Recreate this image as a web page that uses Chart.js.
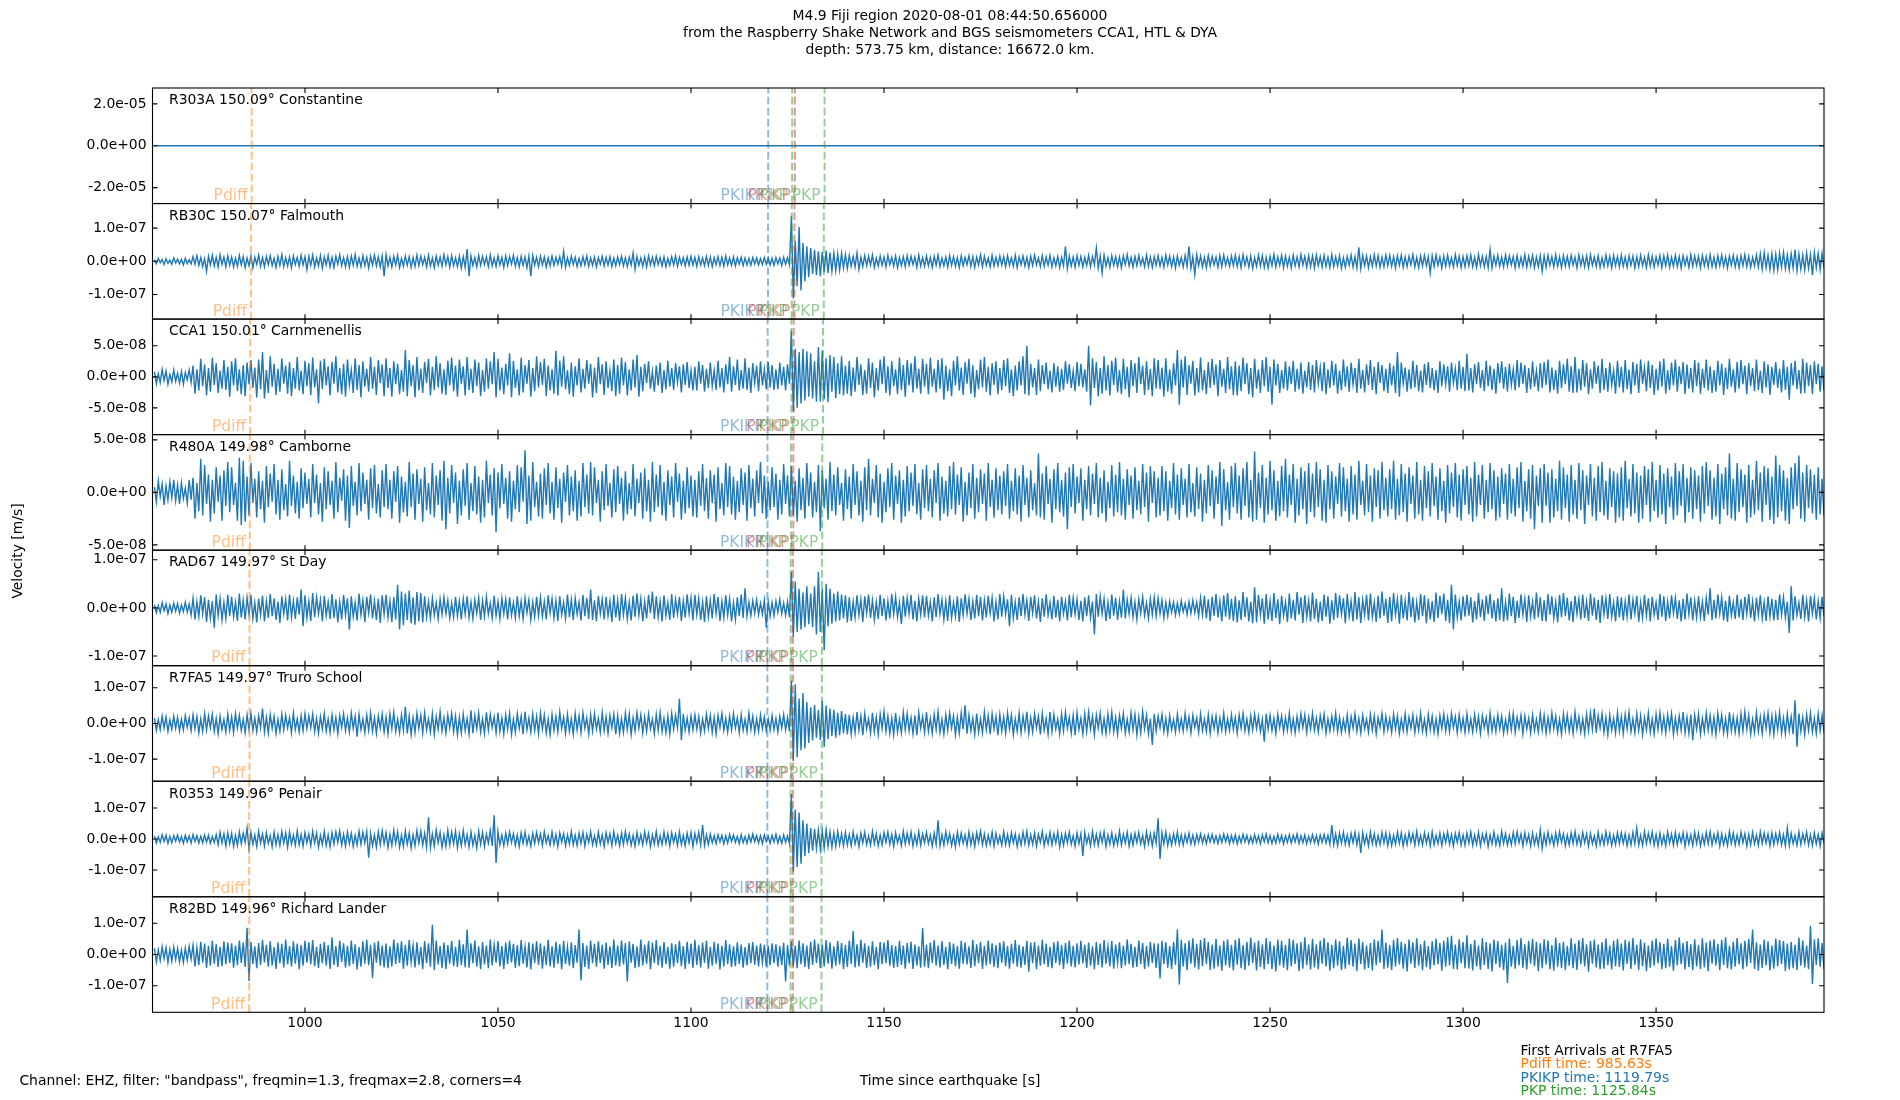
<!DOCTYPE html>
<html><head><meta charset="utf-8">
<script src="https://cdn.jsdelivr.net/npm/chart.js@4.4.0/dist/chart.umd.min.js"></script>
<style>html,body{margin:0;padding:0;background:#fff;}canvas{display:block;}</style>
</head><body>
<canvas id="c" width="1900" height="1100"></canvas>
<script>
// ---------------- data ----------------
const titleLines = [
  "M4.9 Fiji region 2020-08-01 08:44:50.656000",
  "from the Raspberry Shake Network and BGS seismometers CCA1, HTL & DYA",
  "depth: 573.75 km, distance: 16672.0 km."
];
const stations  = ["R303A","RB30C","CCA1","R480A","RAD67","R7FA5","R0353","R82BD"];
const distances = [150.09,150.07,150.01,149.98,149.97,149.97,149.96,149.96];
const places    = ["Constantine","Falmouth","Carnmenellis","Camborne","St Day","Truro School","Penair","Richard Lander"];

// y-axis half ranges (m/s) and tick values
const yLimits = [2.76e-5,1.74e-7,9.3e-8,5.5e-8,1.2e-7,1.62e-7,1.86e-7,1.85e-7];
const yTickValues = [
  [-2e-5,0,2e-5],[-1e-7,0,1e-7],[-5e-8,0,5e-8],[-5e-8,0,5e-8],
  [-1e-7,0,1e-7],[-1e-7,0,1e-7],[-1e-7,0,1e-7],[-1e-7,0,1e-7]
];
const xMin = 960.5, xMax = 1393.5;
const xTicks = [1000,1050,1100,1150,1200,1250,1300,1350];

// arrival phases (s since origin), per station
const phases = ["Pdiff","PKIKP","PKiKP","PKP","PKP"];
const arrPdiff = [986.2,986.0,985.8,985.7,985.63,985.63,985.55,985.55];
const arrPKIKP = [1120.0,1119.95,1119.85,1119.81,1119.79,1119.79,1119.77,1119.77];
const arrPKiKP = [1126.9,1126.8,1126.6,1126.5,1126.4,1126.4,1126.4,1126.4];
const arrPKP1  = [1126.2,1126.1,1126.0,1125.9,1125.84,1125.84,1125.8,1125.8];
const arrPKP2  = [1134.6,1134.4,1134.2,1134.0,1133.9,1133.9,1133.8,1133.8];
const arrivals = [arrPdiff,arrPKIKP,arrPKiKP,arrPKP1,arrPKP2];

// traces: alternating half-cycle peak velocities in nm/s, starting at 961 s
const traceStart = 961;
const traceStep = [10,0.5,0.5,0.5,0.5,0.5,0.5,0.5];
const trR303A = [3,-2,4,-3,2,-4,3,-2,1,-3,2,-1,3,-2,4,-3,2,-1,3,-4,2,-3,1,-2,3,-1,2,-3,4,-2,1,-3,2,-4,3,-1,2,-3,1,-2,3,-4,2,-1,3];
const trRB30C = [
5,-7,9,-4,6,-10,8,-6,4,-9,10,-5,7,-8,6,-11,9,-7,5,-8,14,-9,17,-12,11,-16,8,-30,15,-11,18,-14,12,-17,20,-9,13,-16,17,-12,
13,-17,9,-15,18,-11,14,-19,10,-13,16,-20,12,-9,19,-15,11,-17,14,-10,17,-13,9,-18,15,-12,20,-16,11,-14,13,-19,16,-10,12,-15,18,-11,14,-25,
15,-12,19,-17,10,-14,17,-20,13,-11,18,-16,12,-19,15,-9,20,-13,11,-17,14,-18,16,-12,21,-15,10,-16,17,-13,12,-20,15,-11,19,-14,13,-17,16,-45,
20,-14,12,-17,15,-11,18,-19,9,-15,16,-12,14,-18,11,-16,19,-13,15,-10,12,-17,18,-14,10,-19,16,-12,13,-15,20,-11,14,-18,17,-13,11,-16,15,-20,
14,-18,37,-45,16,-13,11,-17,18,-12,15,-10,13,-16,19,-14,10,-15,17,-11,12,-18,16,-13,14,-9,18,-15,11,-17,15,-12,13,-19,16,-45,18,-11,12,-16,
15,-11,13,-17,10,-14,16,-12,12,-9,14,-15,30,-18,11,-13,15,-10,12,-16,9,-13,14,-11,16,-15,10,-12,13,-17,11,-9,15,-14,12,-11,14,-16,10,-13,
13,-10,15,-14,11,-16,12,-11,25,-24,14,-12,10,-15,13,-17,16,-11,12,-13,15,-10,11,-14,13,-16,9,-12,14,-11,16,-15,12,-10,11,-14,13,-12,15,-11,
12,-15,14,-11,10,-13,15,-12,13,-16,11,-10,14,-13,12,-15,16,-11,10,-12,13,-14,11,-9,12,-13,10,-11,9,-12,11,-8,10,-11,8,-10,12,-9,10,-11,
9,-12,11,-8,10,-13,12,-9,11,-10,136,-112,60,-75,103,-88,55,-60,45,-48,40,-38,35,-42,30,-45,28,-33,32,-35,26,-30,25,-28,22,-26,24,-20,20,-22,
18,-15,14,-17,25,-24,12,-16,17,-13,15,-11,19,-18,10,-14,16,-12,13,-17,18,-10,12,-15,16,-19,11,-13,14,-16,17,-12,15,-10,13,-18,19,-14,11,-15,
16,-13,12,-18,15,-11,19,-16,10,-14,13,-17,18,-12,14,-15,11,-19,16,-13,12,-10,17,-15,14,-18,13,-11,19,-16,15,-12,10,-17,18,-14,12,-13,16,-11,
14,-16,17,-12,11,-15,18,-19,13,-10,16,-14,12,-18,15,-13,19,-11,10,-16,17,-15,13,-12,18,-17,11,-14,15,-19,12,-13,45,-22,16,-14,13,-18,17,-12,
15,-17,12,-13,18,-16,14,-11,40,-20,16,-35,19,-15,11,-18,17,-12,14,-16,13,-19,16,-10,20,-14,12,-17,15,-13,18,-11,10,-16,19,-15,13,-18,14,-12,
17,-14,12,-18,19,-11,15,-16,13,-20,16,-12,11,-17,18,-15,45,-21,14,-40,20,-13,16,-17,12,-19,18,-14,15,-11,13,-18,17,-16,19,-12,11,-15,16,-13,
18,-16,14,-19,20,-12,13,-17,16,-21,11,-15,19,-14,17,-18,12,-20,15,-13,21,-17,14,-12,18,-19,16,-15,12,-20,19,-14,13,-17,20,-11,15,-18,17,-16,
16,-20,19,-13,14,-17,18,-15,12,-19,20,-16,13,-14,17,-21,11,-18,15,-12,19,-17,14,-20,42,-22,18,-13,16,-19,13,-15,20,-14,17,-18,12,-16,19,-13,
18,-15,14,-20,17,-12,19,-18,13,-16,15,-11,20,-17,12,-19,16,-14,18,-13,14,-35,17,-16,19,-12,13,-20,16,-15,18,-14,11,-17,20,-13,15,-19,14,-16,
17,-14,19,-16,12,-18,20,-13,15,-17,14,-19,35,-20,16,-12,18,-15,13,-17,19,-14,16,-11,14,-20,17,-16,12,-15,20,-18,15,-13,18,-19,13,-16,17,-30,
16,-18,19,-12,14,-17,20,-15,13,-19,17,-14,15,-16,18,-11,12,-20,19,-13,14,-17,16,-19,20,-12,13,-15,17,-18,11,-16,19,-14,15,-20,18,-13,14,-17,
19,-15,13,-18,17,-12,16,-20,14,-16,18,-13,12,-19,20,-14,15,-17,13,-11,17,-19,16,-14,19,-18,12,-15,18,-16,14,-20,17,-12,13,-18,20,-15,16,-13,
15,-19,18,-13,14,-17,20,-16,12,-18,17,-14,19,-15,13,-20,16,-12,18,-17,14,-19,17,-13,20,-16,15,-18,12,-14,19,-17,22,-24,26,-19,18,-25,23,-27,
21,-26,24,-18,27,-22,19,-25,23,-20,35,-28,22,-24,18,-26,25,-21,20,-42,26,-19,23,-25,24,-20];
const trCCA1 = [
8,-11,5,-9,12,-6,9,-12,4,-8,11,-7,6,-10,9,-12,7,-5,11,-9,18,-27,12,-22,29,-15,20,-30,14,-24,31,-13,22,-26,10,-19,27,-21,16,-32,
25,-14,30,-23,12,-28,19,-31,23,-12,27,-18,15,-33,28,-20,40,-35,11,-26,33,-16,21,-29,13,-24,30,-11,18,-27,24,-31,14,-19,32,-22,10,-28,26,-15,
22,-29,31,-17,12,-43,26,-20,29,-14,17,-30,24,-11,33,-25,14,-28,21,-32,28,-13,11,-26,30,-21,19,-33,25,-16,13,-24,32,-19,16,-29,27,-10,20,-31,
30,-18,14,-32,25,-12,21,-28,11,-24,43,-31,27,-15,19,-33,32,-22,13,-26,24,-10,29,-30,16,-21,33,-17,22,-27,12,-29,26,-14,31,-23,18,-32,28,-11,
17,-30,32,-21,13,-26,28,-15,23,-31,11,-24,30,-19,25,-12,40,-33,29,-22,15,-28,21,-14,38,-33,26,-18,12,-30,31,-25,19,-11,27,-32,14,-23,33,-17,
24,-13,29,-31,18,-22,12,-27,42,-30,26,-16,33,-20,11,-28,23,-32,17,-14,30,-25,13,-19,27,-11,21,-33,15,-26,32,-12,20,-29,25,-18,10,-23,28,-31,
19,-27,31,-14,24,-30,12,-22,28,-17,35,-32,16,-23,21,-10,25,-19,9,-24,18,-14,23,-26,11,-20,26,-16,14,-21,22,-9,17,-25,20,-13,24,-18,10,-22,
16,-22,25,-11,19,-24,13,-18,23,-15,10,-21,26,-17,14,-25,20,-12,32,-24,17,-13,28,-22,11,-19,30,-21,15,-26,22,-10,18,-23,25,-14,12,-20,24,-17,
19,-21,12,-20,23,-14,16,-22,20,-11,74,-56,45,-50,40,-43,45,-38,41,-32,38,-35,25,-40,48,-40,42,-36,30,-41,35,-24,32,-34,22,-28,33,-30,18,-27,
26,-31,15,-24,32,-13,20,-29,11,-27,30,-18,23,-33,14,-22,28,-12,33,-26,17,-30,25,-15,12,-28,31,-21,19,-32,27,-14,22,-25,33,-19,13,-27,29,-16,
21,-28,31,-16,13,-25,27,-19,30,-37,18,-23,12,-31,26,-14,33,-22,15,-29,24,-11,29,-27,19,-33,11,-20,28,-17,32,-24,16,-30,22,-13,25,-28,14,-21,
27,-15,30,-26,12,-31,18,-22,25,-14,33,-28,50,-30,21,-17,14,-29,28,-23,19,-12,23,-20,10,-25,22,-16,17,-24,13,-21,25,-11,20,-18,9,-23,24,-15,
21,-17,12,-24,50,-46,30,-18,24,-31,14,-27,33,-22,19,-30,26,-13,31,-25,11,-28,29,-20,16,-33,27,-15,22,-26,32,-12,18,-29,25,-21,13,-31,30,-19,
27,-20,15,-32,30,-24,12,-27,22,-14,43,-45,28,-17,33,-29,19,-11,26,-30,14,-25,31,-22,11,-28,24,-18,29,-13,20,-31,27,-16,13,-26,32,-20,17,-29,
25,-30,18,-23,31,-12,22,-28,14,-33,29,-19,12,-26,27,-15,32,-24,16,-45,28,-14,21,-26,11,-19,25,-22,17,-12,26,-24,13,-20,23,-27,10,-17,24,-21,
19,-25,27,-11,15,-23,24,-28,12,-18,26,-14,21,-27,10,-22,28,-16,17,-24,23,-12,14,-26,29,-19,11,-25,20,-13,27,-21,16,-28,24,-10,19,-23,13,-26,
22,-14,18,-26,40,-32,23,-11,15,-24,12,-20,26,-17,19,-23,10,-25,21,-13,24,-18,14,-22,11,-26,25,-15,20,-12,17,-24,23,-10,13,-21,26,-19,16,-23,
37,-22,14,-25,20,-12,24,-18,11,-23,26,-15,18,-21,13,-27,22,-10,25,-19,16,-24,21,-13,12,-22,27,-17,23,-11,19,-26,14,-20,25,-16,10,-23,22,-18,
24,-13,28,-25,15,-21,11,-27,26,-18,20,-12,29,-24,17,-26,32,-25,13,-22,27,-16,22,-28,12,-19,25,-11,18,-26,29,-21,14,-24,23,-13,10,-27,26,-17,
16,-25,27,-20,12,-28,24,-14,21,-26,28,-11,15,-23,26,-18,19,-29,13,-22,25,-16,29,-27,11,-21,23,-14,28,-24,17,-12,24,-28,20,-19,14,-25,27,-15,
23,-27,13,-18,28,-22,17,-26,11,-24,26,-14,21,-29,15,-20,29,-16,12,-25,24,-19,27,-12,18,-28,22,-15,14,-23,28,-21,10,-26,25,-17,20,-29,16,-13,
24,-18,13,-25,27,-21,16,-37,22,-14,26,-20,11,-27,29,-26,23,-15,19,-28,25,-12,21,-24,17,-22];
const trR480A = [
5,-9,11,-4,8,-12,6,-7,10,-5,12,-8,7,-11,9,-6,4,-10,12,-7,14,-25,9,-18,32,-22,26,-11,17,-28,12,-20,24,-9,16,-27,21,-13,29,-19,
24,-12,9,-27,33,-31,30,-28,15,-22,28,-10,13,-24,20,-16,11,-29,25,-14,18,-9,27,-21,12,-26,22,-17,8,-23,30,-13,16,-20,10,-25,23,-15,19,-11,
13,-24,27,-10,17,-21,9,-28,24,-16,20,-12,11,-25,29,-19,14,-8,22,-27,16,-34,25,-13,10,-22,28,-18,19,-11,12,-26,23,-15,26,-20,8,-24,21,-14,
27,-16,12,-25,20,-9,25,-29,15,-19,10,-23,29,-14,18,-26,22,-11,13,-28,24,-17,9,-21,28,-24,16,-12,21,-27,30,-35,14,-20,26,-10,19,-30,11,-22,
22,-13,28,-26,9,-18,25,-21,15,-29,12,-24,30,-10,17,-22,23,-38,19,-15,27,-11,14,-25,20,-28,11,-16,26,-19,24,-9,40,-30,16,-27,29,-14,10,-23,
18,-25,23,-12,28,-20,10,-26,24,-15,13,-29,19,-9,26,-22,15,-18,21,-27,11,-23,28,-14,17,-20,29,-22,24,-10,12,-28,20,-17,27,-13,9,-24,22,-19,
25,-11,14,-27,20,-21,9,-16,27,-23,13,-10,19,-25,23,-18,12,-28,29,-19,17,-14,26,-22,10,-27,21,-12,15,-24,28,-9,18,-26,11,-20,24,-15,16,-23,
12,-24,20,-13,27,-18,14,-25,21,-10,17,-28,24,-16,9,-22,28,-14,25,-21,15,-26,11,-19,23,-12,19,-27,26,-15,13,-23,21,-10,29,-20,16,-25,10,-17,
24,-14,18,-26,12,-21,27,-11,16,-23,25,-22,11,-28,23,-17,14,-25,28,-13,19,-24,10,-19,26,-37,21,-15,13,-26,29,-18,17,-22,24,-12,9,-27,22,-16,
15,-25,27,-12,20,-22,11,-28,24,-17,32,-22,13,-10,26,-24,18,-29,10,-19,23,-14,28,-26,16,-11,21,-29,12,-23,25,-18,19,-13,27,-21,9,-26,22,-15,
26,-18,13,-24,21,-10,28,-27,15,-20,11,-23,25,-16,29,-21,17,-12,24,-28,10,-22,19,-15,27,-25,14,-19,22,-11,18,-27,28,-14,12,-24,23,-17,16,-21,
20,-13,27,-25,11,-18,23,-21,16,-28,26,-12,14,-24,21,-17,9,-22,37,-24,18,-26,25,-11,13,-29,22,-16,28,-19,12,-23,19,-35,24,-14,27,-20,15,-10,
23,-27,12,-16,25,-22,18,-11,28,-24,14,-20,21,-28,10,-15,26,-23,17,-19,29,-22,13,-26,22,-12,16,-25,24,-17,11,-21,27,-14,19,-28,25,-10,20,-24,
14,-22,25,-18,20,-27,11,-15,28,-21,17,-26,23,-12,13,-24,27,-19,9,-23,24,-16,18,-28,12,-20,26,-13,21,-25,15,-11,29,-32,22,-17,10,-26,25,-14,
28,-20,16,-26,23,-13,29,-24,12,-28,39,-26,19,-15,26,-29,14,-21,30,-17,21,-27,11,-23,25,-18,32,-24,17,-12,27,-29,13,-22,24,-16,20,-30,28,-19,
18,-24,29,-14,22,-27,12,-29,26,-16,20,-25,15,-11,28,-23,24,-18,13,-28,25,-21,17,-26,30,-12,11,-22,27,-19,16,-28,23,-14,21,-25,29,-17,14,-23,
22,-16,30,-26,13,-22,27,-19,18,-28,24,-11,16,-25,29,-21,12,-27,25,-15,20,-23,28,-13,15,-26,23,-18,11,-29,26,-20,19,-14,28,-24,17,-27,22,-12,
25,-21,14,-28,29,-23,17,-12,26,-25,12,-19,28,-16,21,-27,15,-24,23,-11,18,-26,27,-20,13,-23,24,-15,29,-28,11,-18,22,-25,26,-35,16,-13,23,-29,
27,-13,19,-29,22,-24,13,-18,30,-26,24,-15,17,-28,26,-21,12,-25,28,-17,21,-30,16,-12,27,-23,14,-27,25,-19,29,-22,11,-26,23,-14,20,-29,18,-24,
24,-27,30,-15,13,-23,27,-20,19,-29,16,-25,25,-12,22,-28,29,-18,12,-24,26,-21,18,-30,23,-14,15,-26,28,-22,20,-13,27,-29,14,-19,24,-25,21,-16,
16,-28,25,-20,29,-13,21,-26,14,-23,27,-30,18,-16,24,-22,37,-25,13,-27,28,-19,22,-14,17,-29,26,-24,12,-21,30,-17,19,-28,25,-12,23,-26,15,-30,
35,-24,26,-18,21,-27,14,-30,24,-16,28,-13,35,-25,19,-28,26,-15,22,-20,17,-26,24,-21,13,-23];
const trRAD67 = [
7,-10,5,-9,11,-6,8,-12,6,-9,10,-7,9,-11,6,-8,12,-9,8,-15,20,-24,13,-18,26,-12,22,-29,17,-21,14,-41,28,-16,19,-25,11,-22,27,-17,
23,-18,12,-27,30,-20,16,-24,21,-13,27,-22,11,-30,19,-15,25,-28,14,-21,29,-17,20,-25,13,-31,24,-12,18,-26,28,-19,15,-23,22,-14,38,-38,26,-20,
14,-27,31,-19,22,-12,17,-28,25,-16,12,-23,29,-21,18,-30,13,-24,27,-15,20,-45,24,-18,11,-26,30,-14,16,-29,23,-11,28,-22,15,-25,19,-31,26,-13,
27,-20,14,-29,22,-24,48,-45,34,-36,30,-25,36,-32,22,-35,33,-28,31,-30,24,-19,13,-22,20,-15,11,-23,18,-14,22,-12,16,-21,10,-19,23,-17,14,-24,
19,-13,24,-20,12,-22,17,-11,21,-25,15,-18,23,-14,10,-21,25,-16,13,-23,20,-12,18,-24,22,-15,11,-20,24,-17,14,-22,21,-10,17,-25,12,-19,23,-16,
22,-18,13,-24,26,-11,19,-21,15,-27,24,-14,11,-22,28,-19,17,-25,20,-13,12,-26,27,-17,21,-23,38,-25,16,-28,25,-12,18,-24,23,-16,14,-29,27,-20,
16,-27,29,-14,21,-23,12,-26,25,-18,30,-15,19,-28,13,-22,27,-11,34,-23,24,-19,14,-28,26,-16,11,-25,29,-21,18,-13,23,-27,15,-20,28,-12,21,-26,
27,-14,20,-25,12,-29,24,-18,16,-22,29,-12,23,-27,14,-20,26,-15,19,-28,11,-24,22,-17,28,-21,41,-18,12,-16,15,-11,17,-14,10,-13,16,-41,13,-17,
11,-16,14,-9,18,-12,10,-15,13,-19,75,-60,55,-50,40,-45,32,-40,45,-34,30,-40,45,-55,75,-50,40,-88,50,-38,40,-33,30,-28,34,-26,28,-22,26,-30,
22,-27,13,-20,26,-15,18,-29,24,-11,28,-21,16,-25,12,-23,27,-17,20,-26,14,-22,29,-13,23,-19,11,-34,25,-18,21,-12,27,-24,15,-28,19,-14,26,-20,
25,-16,12,-28,22,-19,29,-13,17,-24,14,-27,26,-21,11,-18,24,-29,20,-15,28,-12,19,-25,13,-22,27,-17,23,-26,16,-20,25,-11,21,-28,12,-24,29,-18,
24,-13,18,-38,27,-21,12,-25,22,-17,29,-14,16,-27,23,-11,26,-22,13,-29,20,-18,28,-15,11,-24,25,-20,17,-28,23,-12,14,-26,27,-19,21,-13,18,-25,
15,-28,22,-17,26,-20,13,-55,29,-18,24,-12,19,-27,11,-23,28,-16,21,-25,14,-20,38,-22,17,-13,21,-19,12,-24,18,-11,23,-16,10,-21,19,-14,22,-17,
20,-12,16,-21,11,-17,14,-9,12,-15,10,-13,15,-8,9,-14,13,-11,16,-10,12,-17,21,-14,25,-22,18,-27,23,-16,29,-20,14,-28,26,-18,31,-24,19,-27,
24,-30,16,-25,33,-19,22,-28,13,-32,43,-30,27,-15,20,-33,29,-24,14,-27,31,-21,18,-34,25,-16,12,-29,30,-22,17,-26,33,-14,22,-31,26,-19,15,-28,
32,-23,19,-30,13,-27,28,-18,24,-33,16,-25,31,-21,26,-13,20,-32,29,-17,14,-28,33,-24,22,-31,17,-15,27,-26,30,-19,12,-29,25,-22,34,-16,19,-31,
23,-28,31,-14,18,-33,27,-22,15,-26,33,-19,22,-30,12,-25,29,-17,26,-32,19,-24,14,-29,32,-21,25,-13,30,-27,17,-31,48,-45,28,-20,13,-26,24,-18,
27,-16,22,-30,14,-24,31,-19,18,-27,25,-13,29,-22,16,-28,20,-25,41,-28,12,-26,30,-17,23,-31,15,-21,28,-14,19,-29,26,-18,13,-24,32,-20,22,-27,
16,-28,29,-14,24,-22,12,-30,27,-19,31,-17,21,-26,14,-29,25,-12,19,-24,28,-21,13,-27,30,-16,22,-25,17,-31,26,-13,20,-23,29,-18,11,-28,24,-20,
22,-26,14,-19,28,-24,17,-12,25,-29,12,-21,27,-16,20,-28,23,-14,11,-25,29,-18,24,-27,13,-22,26,-11,21,-23,16,-28,19,-24,30,-13,22,-26,15,-20,
24,-19,13,-27,20,-14,41,-25,17,-22,28,-12,22,-26,15,-29,25,-16,11,-23,27,-20,18,-25,23,-13,29,-21,14,-28,21,-15,26,-22,12,-27,24,-18,19,-26,
17,-25,28,-14,22,-20,13,-52,45,-26,24,-15,11,-23,27,-19,16,-28,25,-12,20,-24,14,-21,23,-17];
const trR7FA5 = [
15,-19,11,-17,21,-13,18,-22,10,-16,20,-14,17,-21,12,-18,22,-11,16,-20,24,-15,19,-26,13,-22,27,-18,21,-12,25,-23,14,-28,20,-17,11,-24,26,-19,
18,-25,27,-13,22,-20,12,-26,24,-16,28,-19,15,-23,21,-12,42,-24,17,-27,25,-14,20,-28,11,-22,26,-18,23,-13,16,-26,29,-17,13,-24,22,-20,27,-15,
21,-12,26,-23,14,-27,19,-16,28,-21,13,-25,24,-18,17,-29,22,-11,27,-20,15,-24,29,-14,20,-37,25,-17,12,-26,23,-19,30,-22,16,-28,21,-13,26,-24,
18,-29,27,-15,31,-22,12,-26,24,-19,47,-28,21,-31,16,-25,29,-14,23,-27,30,-18,13,-24,27,-30,19,-16,32,-21,15,-27,24,-12,28,-23,20,-31,17,-26,
26,-20,14,-30,37,-27,22,-15,29,-24,13,-28,31,-19,25,-12,18,-26,30,-22,16,-29,24,-17,28,-31,12,-25,27,-14,21,-30,33,-18,15,-24,26,-20,19,-28,
29,-16,23,-27,12,-31,26,-19,20,-24,32,-14,17,-28,25,-22,13,-30,28,-18,21,-26,30,-13,16,-29,24,-21,27,-15,14,-25,31,-20,19,-27,23,-12,26,-30,
22,-28,13,-24,29,-17,26,-31,16,-21,30,-13,24,-27,18,-22,27,-15,12,-29,25,-19,31,-23,14,-26,20,-30,28,-16,23,-12,69,-47,26,-19,15,-24,21,-18,
24,-16,19,-27,12,-21,26,-14,22,-25,17,-29,23,-11,28,-20,14,-24,21,-18,27,-13,16,-26,25,-19,11,-23,29,-17,20,-25,13,-22,24,-15,18,-21,12,-19,
22,-17,14,-24,20,-13,25,-18,16,-22,120,-105,110,-95,70,-75,85,-70,60,-55,45,-48,52,-40,38,-46,64,-66,50,-44,42,-35,38,-40,30,-33,35,-28,26,-31,
24,-30,17,-26,32,-19,21,-33,28,-15,13,-27,30,-23,18,-31,26,-14,33,-22,20,-28,15,-32,29,-24,12,-26,31,-18,27,-20,16,-29,23,-33,30,-13,19,-25,
31,-22,14,-28,26,-17,33,-25,12,-30,24,-19,29,-13,21,-32,17,-27,30,-16,51,-29,23,-20,15,-31,28,-24,13,-26,32,-18,22,-30,27,-15,19,-33,25,-21,
18,-27,30,-15,24,-32,13,-22,29,-26,21,-17,33,-28,16,-24,27,-12,20,-31,28,-19,14,-30,32,-23,25,-16,12,-29,26,-21,31,-14,18,-27,23,-33,30,-17,
15,-29,27,-22,32,-16,20,-31,24,-13,29,-25,13,-28,26,-19,31,-23,17,-30,22,-14,28,-27,12,-24,30,-18,25,-32,19,-26,33,-15,23,-29,14,-60,27,-21,
20,-12,25,-23,14,-27,22,-17,11,-24,26,-19,13,-21,28,-15,18,-26,23,-11,16,-25,27,-20,12,-22,24,-28,19,-14,21,-26,15,-18,29,-23,13,-20,25,-17,
17,-27,24,-13,28,-21,12,-25,22,-18,26,-14,19,-23,11,-51,27,-16,23,-20,14,-28,25,-12,21,-24,16,-19,29,-22,13,-26,20,-17,27,-11,24,-25,18,-15,
28,-19,15,-24,22,-12,26,-27,13,-21,20,-16,29,-23,17,-25,11,-20,24,-28,19,-13,27,-22,14,-26,23,-15,12,-24,25,-18,21,-29,16,-11,28,-23,20,-17,
14,-25,26,-16,21,-28,12,-20,27,-23,18,-13,24,-26,15,-19,29,-22,11,-27,25,-17,20,-24,13,-29,22,-14,26,-21,17,-23,28,-12,19,-26,24,-18,14,-25,
27,-20,13,-24,25,-17,19,-28,22,-12,16,-26,29,-21,14,-23,24,-15,20,-27,11,-22,26,-18,28,-25,17,-13,23,-29,21,-16,15,-27,24,-20,12,-24,28,-19,
23,-27,16,-21,29,-14,20,-25,12,-30,27,-18,24,-22,15,-28,31,-16,19,-24,13,-29,26,-20,30,-17,42,-26,22,-13,28,-25,17,-31,24,-19,14,-27,30,-21,
19,-28,25,-15,31,-23,13,-26,27,-20,22,-31,16,-18,29,-25,12,-29,26,-17,30,-22,18,-27,24,-14,28,-30,15,-24,21,-19,32,-26,17,-28,25,-47,23,-16,
26,-30,14,-23,29,-19,22,-27,17,-31,28,-15,24,-26,13,-29,31,-20,19,-24,16,-28,27,-21,33,-17,23,-30,12,-25,30,-22,18,-29,25,-14,29,-26,21,-31,
24,-18,31,-27,15,-29,26,-21,19,-30,65,-65,28,-22,17,-31,25,-19,29,-24,14,-28,27,-20,23,-26];
const trR0353 = [
10,-13,7,-11,14,-8,12,-14,9,-12,11,-7,13,-10,8,-14,12,-9,10,-13,14,-8,11,-13,9,-12,13,-10,12,-14,8,-11,14,-18,22,-13,17,-23,20,-15,
18,-24,12,-20,23,-15,19,-11,35,-33,21,-17,13,-24,25,-12,16,-22,20,-14,11,-25,22,-18,14,-21,24,-13,19,-26,23,-16,12,-20,26,-19,15,-23,21,-12,
16,-22,25,-13,19,-26,12,-18,24,-21,13,-25,20,-16,23,-11,26,-20,14,-23,22,-15,18,-24,11,-19,25,-17,21,-13,24,-60,17,-22,13,-26,23,-18,27,-15,
20,-27,15,-21,28,-14,23,-26,12,-24,26,-17,19,-29,14,-22,27,-13,25,-20,18,-26,70,-28,16,-23,29,-12,21,-27,13,-24,28,-19,22,-15,25,-28,17,-21,
27,-18,14,-26,23,-20,12,-29,25,-17,21,-24,16,-13,28,-22,76,-77,24,-19,13,-22,19,-16,23,-11,17,-21,12,-24,20,-14,22,-18,10,-23,18,-15,21,-12,
16,-21,23,-13,11,-19,22,-17,14,-24,20,-10,18,-22,13,-16,24,-19,12,-21,19,-14,21,-23,15,-11,23,-18,10,-20,22,-16,13,-24,20,-12,17,-21,24,-15,
12,-22,19,-17,24,-13,16,-20,11,-23,21,-15,14,-19,23,-12,18,-24,13,-16,24,-20,10,-18,22,-14,17,-23,20,-11,15,-21,23,-17,12,-22,19,-13,21,-24,
18,-12,22,-19,45,-21,13,-17,16,-12,11,-15,14,-9,12,-16,10,-13,15,-8,13,-11,9,-15,14,-12,8,-14,12,-10,16,-9,11,-13,10,-15,13,-8,9,-14,
12,-10,15,-13,9,-14,13,-11,10,-15,145,-105,95,-90,85,-80,60,-55,50,-45,35,-38,32,-30,28,-33,25,-29,30,-24,22,-26,20,-23,24,-18,17,-22,21,-19,
14,-21,23,-16,12,-24,19,-13,22,-18,10,-20,24,-15,17,-22,13,-19,21,-11,23,-17,15,-24,20,-12,11,-21,25,-16,18,-14,22,-23,13,-18,24,-20,16,-12,
21,-15,12,-23,19,-17,60,-22,14,-20,24,-13,17,-21,11,-25,22,-16,19,-14,13,-22,23,-18,15,-24,20,-11,25,-19,16,-21,12,-17,22,-23,18,-14,10,-20,
23,-18,14,-21,20,-12,16,-24,11,-19,22,-15,25,-20,13,-17,19,-23,15,-11,24,-22,12,-16,21,-19,17,-13,23,-25,14,-20,18,-12,22,-17,10,-23,20,-15,
17,-55,21,-14,12,-22,24,-18,15,-20,19,-11,23,-24,13,-16,20,-21,11,-17,25,-19,16,-13,22,-23,14,-20,18,-12,21,-16,12,-24,23,-15,17,-22,19,-13,
67,-64,20,-16,23,-21,12,-19,17,-14,22,-18,13,-20,15,-11,19,-16,12,-17,14,-10,16,-13,11,-15,13,-9,15,-12,10,-14,12,-11,16,-9,13,-15,11,-12,
13,-16,9,-12,15,-10,12,-14,8,-13,14,-11,10,-15,13,-9,16,-12,11,-14,9,-13,15,-10,12,-16,10,-11,14,-13,12,-9,16,-14,10,-12,13,-15,9,-11,
14,-12,10,-16,13,-11,15,-13,12,-17,45,-18,16,-21,19,-14,22,-17,13,-20,18,-12,21,-19,15,-45,20,-16,12,-22,23,-15,17,-20,11,-18,21,-13,19,-22,
16,-21,12,-17,22,-14,19,-23,13,-18,21,-11,17,-20,24,-16,11,-19,20,-13,15,-22,23,-18,12,-15,19,-21,17,-12,22,-17,14,-23,18,-11,21,-19,13,-20,
19,-13,23,-20,12,-17,21,-22,15,-11,18,-24,13,-16,22,-19,10,-21,24,-14,17,-20,11,-18,21,-15,23,-12,16,-22,20,-13,14,-23,19,-17,12,-21,30,-30,
15,-18,22,-13,12,-21,19,-16,23,-11,17,-22,13,-19,20,-14,24,-17,11,-20,21,-12,16,-23,18,-15,10,-22,22,-17,13,-19,23,-14,17,-21,12,-18,20,-15,
20,-14,17,-22,13,-19,21,-16,35,-19,12,-21,24,-15,18,-12,22,-20,14,-23,19,-17,11,-22,23,-13,16,-20,21,-18,15,-11,20,-24,17,-16,13,-21,22,-14,
18,-22,12,-17,21,-15,23,-19,14,-12,20,-23,16,-18,11,-21,24,-14,19,-20,13,-17,22,-12,17,-23,15,-19,21,-16,12,-20,23,-15,19,-13,16,-22,20,-18,
17,-13,21,-19,14,-22,35,-21,18,-15,12,-20,23,-17,16,-12,22,-19,13,-21,20,-16,15,-23,19,-14];
const trR82BD = [
20,-24,15,-19,25,-13,22,-26,17,-21,24,-16,19,-23,14,-25,21,-18,26,-15,30,-38,22,-33,41,-26,35,-43,28,-36,44,-29,33,-40,25,-37,42,-31,38,-27,
36,-42,29,-34,45,-27,38,-40,86,-85,41,-30,26,-44,37,-33,47,-25,31,-39,43,-35,24,-46,39,-28,34,-41,48,-32,27,-38,42,-29,35,-47,30,-36,44,-26,
39,-31,46,-37,25,-43,34,-28,41,-35,30,-46,55,-33,27,-40,44,-24,36,-42,28,-37,45,-30,33,-48,24,-39,42,-29,47,-34,31,-75,38,-26,43,-36,29,-41,
35,-44,26,-38,48,-30,37,-27,42,-45,31,-36,46,-25,29,-41,39,-33,24,-47,43,-28,36,-39,95,-50,45,-32,27,-43,38,-46,30,-29,44,-37,25,-40,47,-34,
33,-41,80,-42,36,-28,45,-39,26,-47,40,-32,29,-44,48,-35,31,-26,43,-38,27,-46,38,-30,44,-25,34,-43,30,-37,46,-29,25,-41,39,-48,35,-27,42,-33,
36,-45,28,-34,47,-38,26,-42,41,-29,33,-47,44,-31,25,-36,39,-44,30,-26,80,-83,37,-40,29,-46,45,-28,34,-39,42,-27,31,-45,38,-33,26,-43,48,-35,
29,-38,45,-32,37,-86,42,-26,34,-44,26,-40,48,-35,31,-29,43,-47,38,-27,46,-34,28,-42,40,-31,25,-45,36,-39,33,-28,44,-37,27,-46,41,-30,35,-43,
47,-33,30,-41,38,-27,44,-45,25,-36,41,-29,35,-48,28,-38,46,-31,33,-40,26,-37,39,-30,32,-42,24,-35,37,-28,40,-33,29,-38,35,-26,31,-39,27,-34,
36,-28,33,-39,27,-34,38,-86,30,-35,42,-37,28,-44,45,-31,36,-40,29,-46,41,-33,48,-27,35,-43,30,-38,46,-29,39,-45,26,-36,44,-32,37,-47,31,-40,
45,-30,75,-41,33,-38,47,-26,36,-44,28,-39,42,-34,25,-47,40,-31,38,-27,46,-36,30,-43,27,-40,44,-33,29,-45,37,-28,41,-46,32,-35,26,-42,86,-39,
31,-44,38,-27,46,-36,29,-41,43,-33,25,-47,40,-30,35,-38,27,-45,44,-29,39,-32,26,-43,47,-37,33,-28,41,-46,28,-35,45,-31,36,-40,30,-44,38,-26,
42,-37,27,-45,34,-29,46,-39,31,-42,26,-33,44,-55,38,-28,41,-47,29,-36,47,-31,35,-40,25,-44,39,-27,43,-34,30,-46,37,-29,45,-38,28,-41,36,-32,
44,-28,31,-43,38,-36,26,-47,40,-33,35,-41,46,-29,27,-38,43,-45,32,-26,39,-44,29,-35,48,-31,34,-42,25,-40,45,-30,37,-46,28,-39,41,-27,36,-43,
35,-77,44,-30,39,-42,27,-46,41,-33,80,-96,47,-38,36,-50,45,-29,52,-41,34,-48,46,-37,53,-30,40,-49,32,-45,50,-39,29,-52,44,-35,48,-42,31,-51,
47,-33,52,-44,30,-49,41,-36,54,-28,38,-51,45,-40,33,-47,53,-31,42,-46,29,-54,48,-35,44,-42,31,-50,51,-37,46,-30,36,-53,40,-45,55,-34,32,-48,
50,-41,33,-47,45,-29,53,-38,39,-52,31,-44,48,-36,42,-50,28,-45,54,-33,46,-39,35,-53,51,-30,40,-48,29,-43,37,-51,49,-34,44,-27,80,-46,38,-42,
30,-49,46,-38,53,-32,41,-45,35,-54,48,-29,39,-43,52,-36,33,-50,45,-40,27,-47,42,-34,50,-31,37,-52,44,-39,55,-35,60,-46,32,-48,49,-28,40,-44,
62,-45,34,-51,47,-38,29,-49,52,-33,40,-46,36,-54,48,-30,43,-41,31,-50,38,-91,51,-39,28,-45,46,-35,53,-42,33,-48,44,-29,50,-37,41,-53,36,-44,
49,-32,45,-47,30,-52,54,-39,37,-43,41,-50,28,-36,52,-44,35,-49,46,-31,53,-38,33,-55,43,-29,48,-41,32,-47,39,-45,51,-34,29,-48,44,-37,50,-40,
35,-51,47,-30,42,-46,53,-33,31,-49,48,-37,38,-53,29,-42,45,-36,52,-28,40,-47,34,-44,50,-39,27,-52,46,-35,54,-31,37,-48,43,-40,33,-50,49,-38,
30,-46,52,-41,38,-53,45,-29,49,-36,34,-50,47,-33,55,-44,28,-48,41,-39,53,-31,36,-47,44,-38,50,-27,80,-46,39,-52,32,-43,48,-35,42,-51,29,-45,
51,-37,46,-30,43,-53,35,-48,40,-44,31,-50,54,-36,45,-41,29,-47,92,-94,48,-33,52,-39,37,-46];
const traceValues = [trR303A,trRB30C,trCCA1,trR480A,trRAD67,trR7FA5,trR0353,trR82BD];

const channelText = 'Channel: EHZ, filter: "bandpass", freqmin=1.3, freqmax=2.8, corners=4';
const xLabelText = "Time since earthquake [s]";
const yLabelText = "Velocity [m/s]";
const infoLines = ["First Arrivals at R7FA5","Pdiff time: 985.63s","PKIKP time: 1119.79s","PKP time: 1125.84s"];

// ---------------- styles ----------------
const FONT = "'DejaVu Sans', sans-serif";
const traceColor = "#1f77b4";
const phaseLineColors = ["rgba(255,127,14,0.5)","rgba(31,119,180,0.5)","rgba(214,39,40,0.5)","rgba(44,160,44,0.5)","rgba(44,160,44,0.5)"];
const infoColors = ["#000000","#ff7f0e","#1f77b4","#2ca02c"];

function fmtExp(v){
  return Number(v).toExponential(1).replace(/e([+-])(\d)$/, (m,s,d)=>"e"+s+"0"+d);
}

// ---------------- chart ----------------
const datasets = [];
stations.forEach((st,i)=>{
  const lim = yLimits[i];
  datasets.push({
    label: st, yAxisID: "y"+i, xAxisID: "x",
    data: traceValues[i].map((v,k)=>({x: traceStart + k*traceStep[i], y: v*1e-9})),
    borderColor: traceColor, borderWidth: 1.4, pointRadius: 0, tension: 0, fill: false, order: 2
  });
  phases.forEach((ph,p)=>{
    const t = arrivals[p][i];
    datasets.push({
      label: st+" "+ph, yAxisID: "y"+i, xAxisID: "x",
      data: [{x:t, y:-lim},{x:t, y:lim}],
      borderColor: phaseLineColors[p], borderWidth: 2, borderDash: [7.7,3.3],
      pointRadius: 0, fill: false, order: 1
    });
  });
});

const scales = {
  x: {
    type: "linear", position: "bottom", min: xMin, max: xMax,
    grid: {display:false, drawTicks:false}, border: {display:false},
    ticks: {font:{family:FONT,size:13.9}, color:"#000", padding:3, maxRotation:0, callback: v => String(v)},
    afterBuildTicks: s => { s.ticks = xTicks.map(v=>({value:v})); },
    afterFit: s => { s.height = 30; }
  }
};
for (let i = stations.length-1; i >= 0; i--) {
  scales["y"+i] = {
    type: "linear", position: "left", stack: "seis", stackWeight: 1, weight: stations.length - i,
    min: -yLimits[i], max: yLimits[i],
    grid: {display:false, drawTicks:false}, border: {display:false},
    ticks: {font:{family:FONT,size:13.9}, color:"#000", padding:6, callback: v => fmtExp(v)},
    afterBuildTicks: s => { s.ticks = yTickValues[i].map(v=>({value:v})); },
    afterFit: s => { s.width = 152.5; }
  };
}

const overlay = {
  id: "overlay",
  afterDatasetsDraw(chart){
    const ctx = chart.ctx, a = chart.chartArea, xs = chart.scales.x;
    ctx.save();
    stations.forEach((st,i)=>{
      const ys = chart.scales["y"+i];
      const top = ys.top, bot = ys.bottom;
      ctx.font = "15.5px " + FONT; ctx.textAlign = "right"; ctx.textBaseline = "alphabetic";
      phases.forEach((ph,p)=>{
        ctx.fillStyle = phaseLineColors[p];
        ctx.fillText(ph, xs.getPixelForValue(arrivals[p][i]) - 4, bot - 3.3);
      });
      ctx.font = "13.9px " + FONT; ctx.textAlign = "left"; ctx.fillStyle = "#000";
      ctx.fillText(st + " " + distances[i].toFixed(2) + "\u00b0 " + places[i], a.left + 16.5, top + 16.3);
      ctx.strokeStyle = "#000"; ctx.lineWidth = 1.1; ctx.setLineDash([]);
      ctx.strokeRect(a.left, top, a.right - a.left, bot - top);
      ctx.beginPath();
      xTicks.forEach(v=>{
        const x = xs.getPixelForValue(v);
        ctx.moveTo(x, top); ctx.lineTo(x, top + 4.9);
        ctx.moveTo(x, bot); ctx.lineTo(x, bot - 4.9);
      });
      yTickValues[i].forEach(v=>{
        const y = ys.getPixelForValue(v);
        ctx.moveTo(a.left, y); ctx.lineTo(a.left + 4.9, y);
        ctx.moveTo(a.right, y); ctx.lineTo(a.right - 4.9, y);
      });
      ctx.stroke();
    });
    ctx.fillStyle = "#000"; ctx.font = "13.9px " + FONT;
    ctx.textAlign = "center"; ctx.textBaseline = "middle";
    titleLines.forEach((t,k)=> ctx.fillText(t, 950, 16.5 + k*16.7));
    ctx.fillText(xLabelText, 950, 1081.5);
    ctx.textAlign = "left";
    ctx.fillText(channelText, 19.4, 1081.5);
    infoLines.forEach((t,k)=>{ ctx.fillStyle = infoColors[k]; ctx.fillText(t, 1520.5, 1051 + k*13.6); });
    ctx.save();
    ctx.fillStyle = "#000"; ctx.textAlign = "center";
    ctx.translate(18, 551); ctx.rotate(-Math.PI/2);
    ctx.fillText(yLabelText, 0, 0);
    ctx.restore();
    ctx.restore();
  }
};

new Chart(document.getElementById("c"), {
  type: "line",
  data: { datasets },
  options: {
    responsive: false, devicePixelRatio: 1, animation: false, normalized: true,
    layout: { padding: {left:0, right:76, top:88, bottom:57.7} },
    plugins: { legend: {display:false}, tooltip: {enabled:false} },
    scales
  },
  plugins: [overlay]
});
</script>
</body></html>
